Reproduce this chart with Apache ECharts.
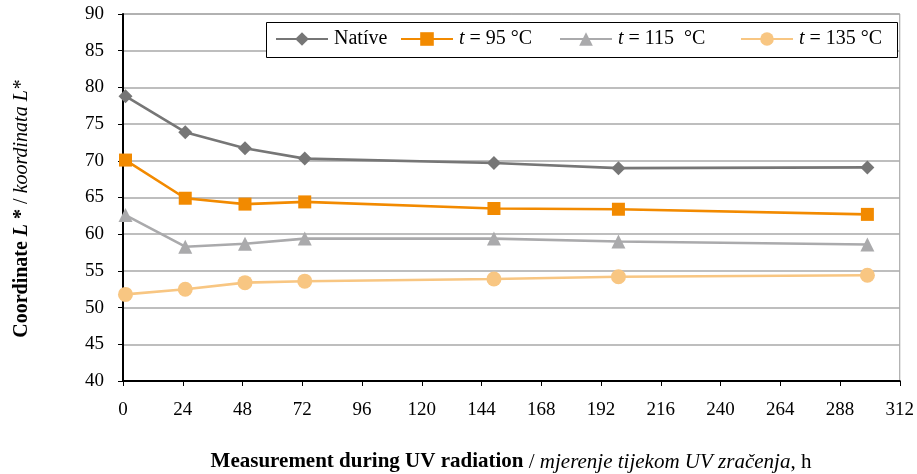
<!DOCTYPE html>
<html>
<head>
<meta charset="utf-8">
<script src="https://cdn.jsdelivr.net/npm/echarts@6/dist/echarts.min.js"></script>
<style>
  html, body { margin: 0; padding: 0; background: #ffffff; }
  #chart { width: 917px; height: 474px; }
</style>
</head>
<body>
<div id="chart"></div>
<script>
// Measurement times during UV exposure, h
var hours = [1, 25, 49, 73, 149, 199, 299];

// Lightness coordinate L* for each sample
var native = [78.8, 73.9, 71.7, 70.3, 69.7, 69.0, 69.1];
var t95    = [70.1, 64.9, 64.1, 64.4, 63.5, 63.4, 62.7];
var t115   = [62.6, 58.3, 58.7, 59.4, 59.4, 59.0, 58.6];
var t135   = [51.8, 52.5, 53.4, 53.6, 53.9, 54.2, 54.4];

var seriesNames = ['Natíve', 't95', 't115', 't135'];
var legendLabels = ['Natíve', '{i|t} = 95 °C', '{i|t} = 115  °C', '{i|t} = 135 °C'];
var legendLeft = [275, 400, 559, 740];

var FONT = 'Liberation Serif';

function pairs(xs, ys) {
  return xs.map(function (x, i) { return [x, ys[i]]; });
}

var chart = echarts.init(document.getElementById('chart'), null, { renderer: 'canvas' });

function lineSeries(name, values, color, symbol, size) {
  return {
    name: name,
    type: 'line',
    data: pairs(hours, values),
    symbol: symbol,
    symbolSize: size,
    showSymbol: true,
    lineStyle: { color: color, width: 2.6 },
    itemStyle: { color: color },
    emphasis: { disabled: true },
    animation: false,
    z: 3
  };
}

// one legend per entry so each sits at its own spot inside the framed box
var legends = seriesNames.map(function (name, i) {
  return {
    data: [name],
    left: legendLeft[i], top: 29,
    padding: 0,
    itemWidth: 52, itemHeight: 17,
    formatter: function () { return legendLabels[i]; },
    textStyle: {
      fontFamily: FONT, fontSize: 20, color: '#000000', padding: [0, 0, 0, 1],
      rich: { i: { fontFamily: FONT, fontSize: 20, fontStyle: 'italic', color: '#000000' } }
    },
    z: 5
  };
});

chart.setOption({
  backgroundColor: '#ffffff',
  animation: false,
  grid: {
    left: 123, right: 12, top: 14, bottom: 93,
    show: true, borderColor: '#9a9a9a', borderWidth: 1
  },
  legend: legends,
  xAxis: {
    type: 'value',
    min: 0, max: 312, interval: 24,
    axisLine: { show: true, lineStyle: { color: '#000000', width: 2 } },
    axisTick: { show: true, length: 5, lineStyle: { color: '#000000', width: 1 } },
    axisLabel: { fontFamily: FONT, fontSize: 19, color: '#000000', margin: 20 },
    splitLine: { show: false }
  },
  yAxis: {
    type: 'value',
    min: 40, max: 90, interval: 5,
    axisLine: { show: true, lineStyle: { color: '#000000', width: 2 } },
    axisTick: { show: true, length: 5, lineStyle: { color: '#000000', width: 1 } },
    axisLabel: { fontFamily: FONT, fontSize: 19, color: '#000000', margin: 19 },
    splitLine: { show: true, lineStyle: { color: '#a8a8a8', width: 1.5 } }
  },
  graphic: [
    {
      type: 'rect',
      shape: { x: 266.5, y: 22.5, width: 631, height: 35 },
      style: { fill: '#ffffff', stroke: '#000000', lineWidth: 1 },
      z: 4
    },
    {
      type: 'text',
      x: 511,
      y: 462,
      style: {
        text: '{b|Measurement during UV radiation}{n| / }{i|mjerenje tijekom UV zračenja}{n|, h}',
        align: 'center',
        verticalAlign: 'middle',
        rich: {
          b: { fontFamily: FONT, fontSize: 21, fontWeight: 'bold', fill: '#000' },
          n: { fontFamily: FONT, fontSize: 21, fill: '#000' },
          i: { fontFamily: FONT, fontSize: 21, fontStyle: 'italic', fill: '#000' }
        }
      }
    },
    {
      type: 'text',
      x: 22,
      y: 209,
      rotation: Math.PI / 2,
      style: {
        text: '{b|Coordinate }{bi|L}{b| *}{n| / }{i|koordinata L*}',
        align: 'center',
        verticalAlign: 'middle',
        rich: {
          b: { fontFamily: FONT, fontSize: 20, fontWeight: 'bold', fill: '#000' },
          bi: { fontFamily: FONT, fontSize: 20, fontWeight: 'bold', fontStyle: 'italic', fill: '#000' },
          n: { fontFamily: FONT, fontSize: 20, fill: '#000' },
          i: { fontFamily: FONT, fontSize: 20, fontStyle: 'italic', fill: '#000' }
        }
      }
    }
  ],
  series: [
    lineSeries('Natíve', native, '#767676', 'diamond', 14),
    lineSeries('t95', t95, '#f28a00', 'rect', 13),
    lineSeries('t115', t115, '#aaaaac', 'triangle', 14),
    lineSeries('t135', t135, '#f8c682', 'circle', 15)
  ]
});
</script>
</body>
</html>
